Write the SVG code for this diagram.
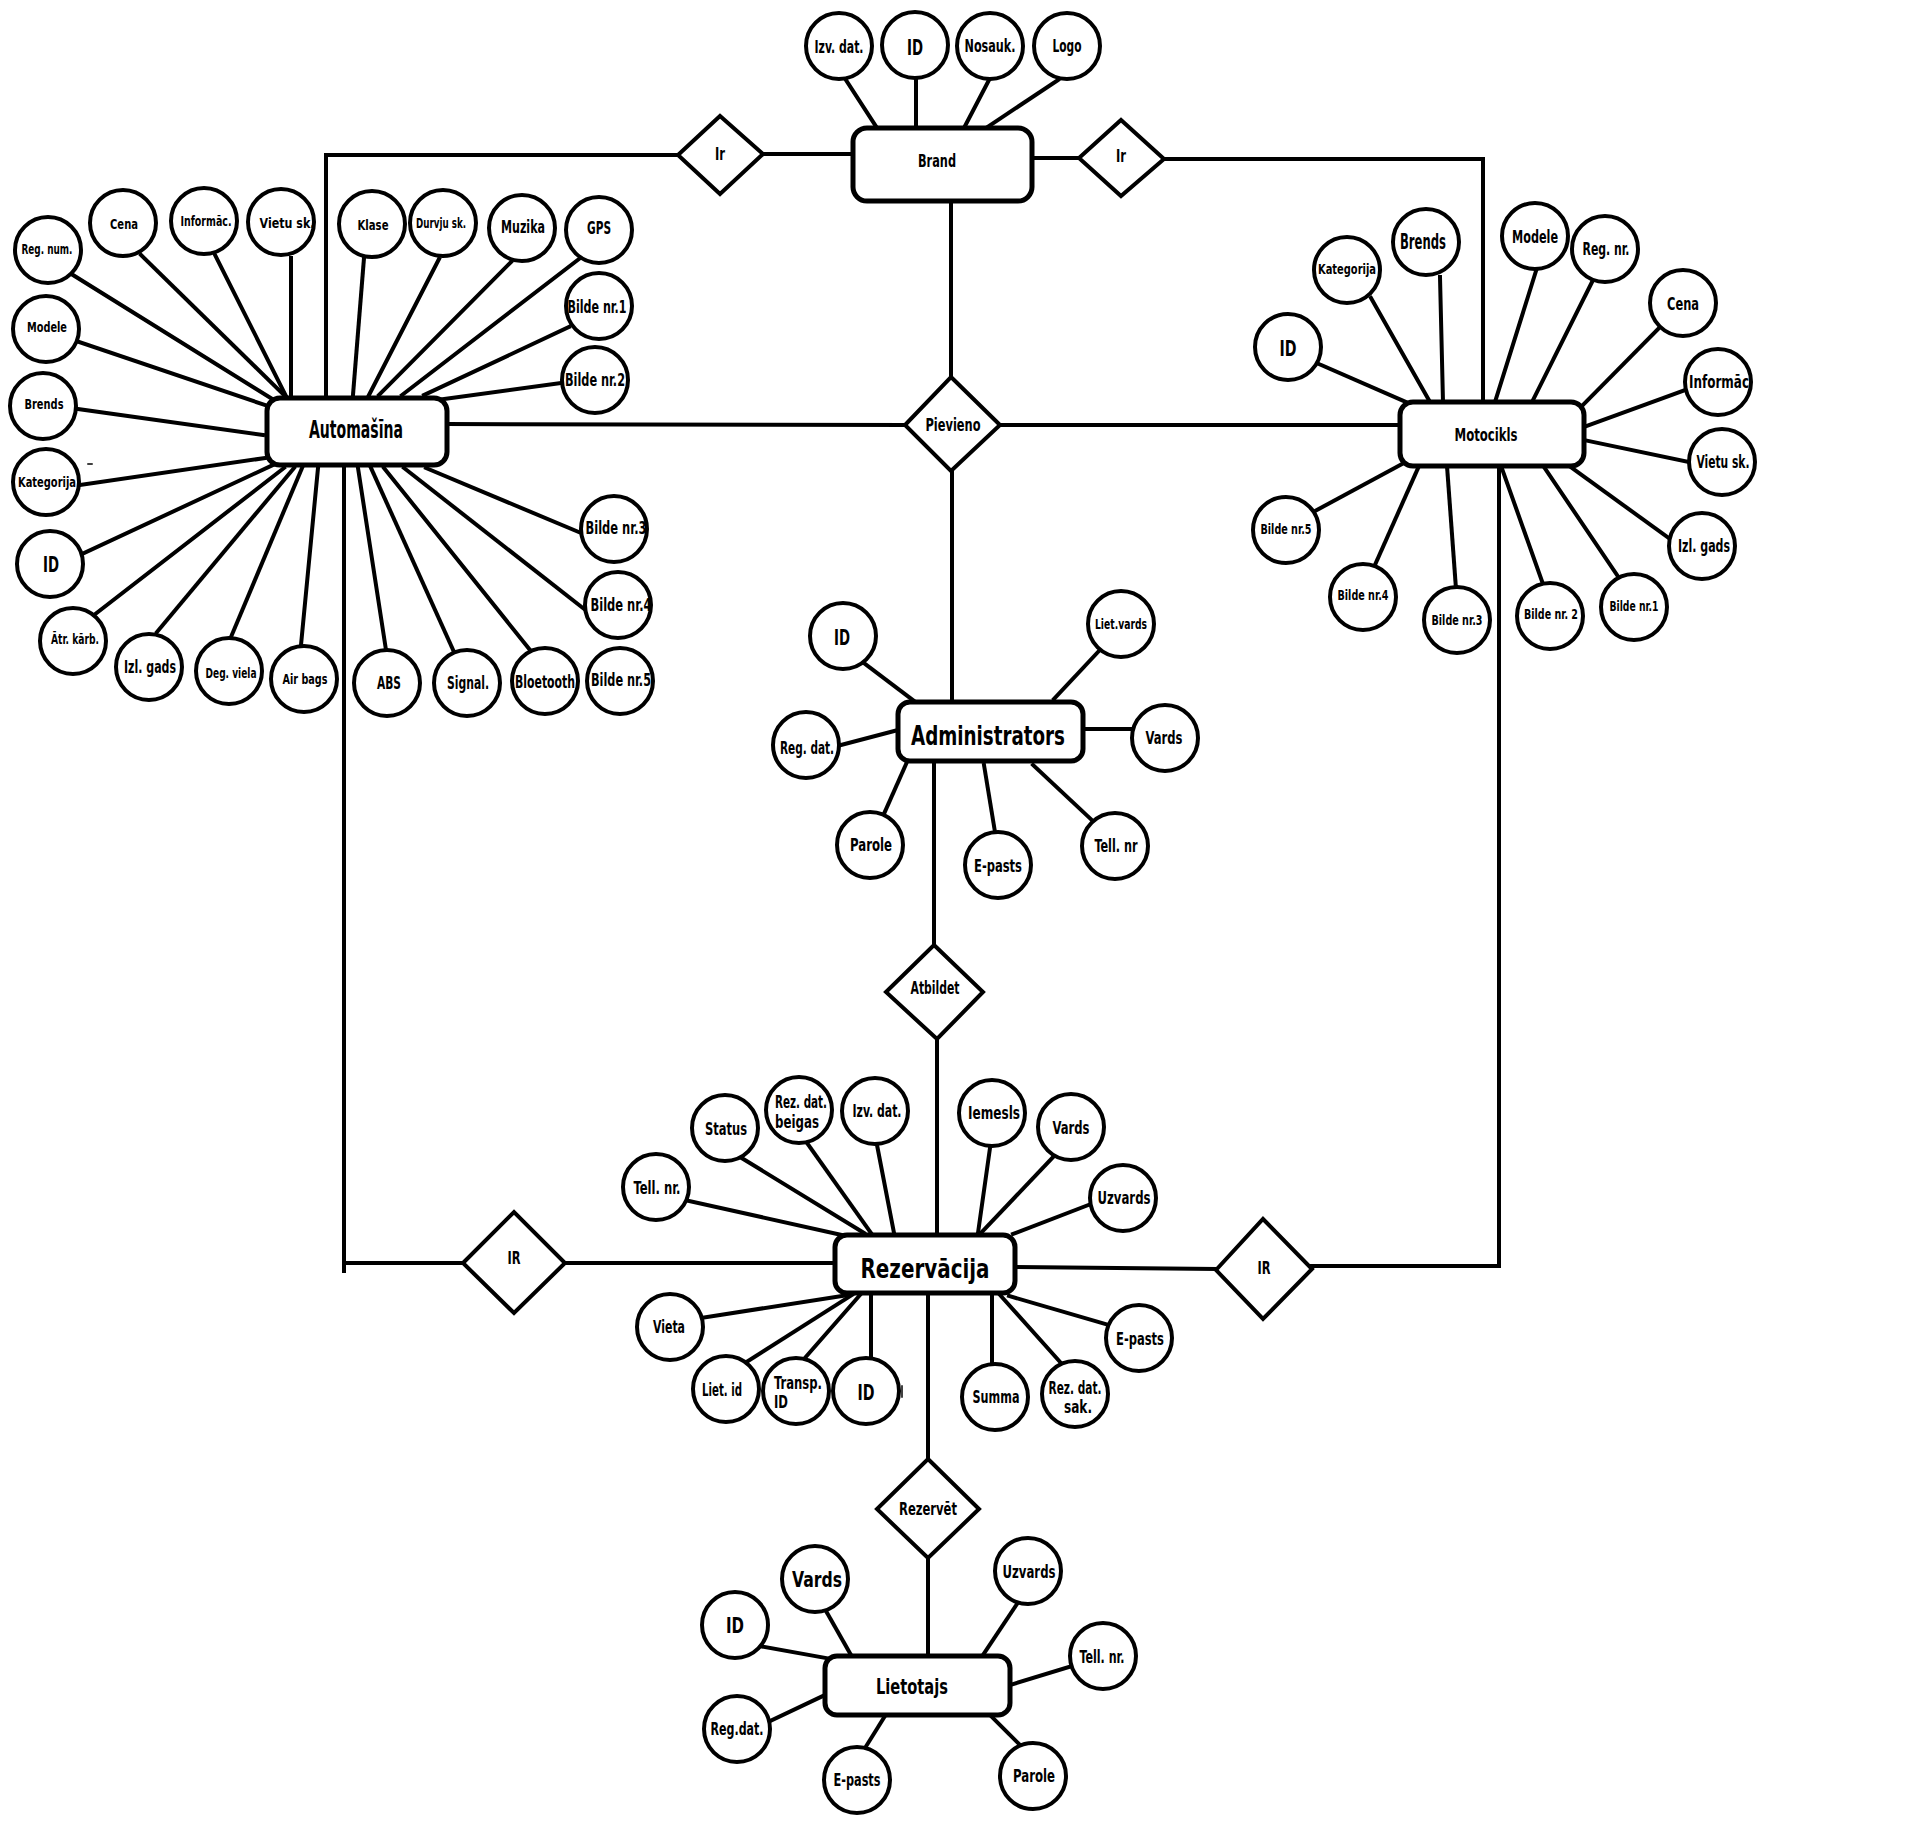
<svg xmlns="http://www.w3.org/2000/svg" width="1920" height="1822" viewBox="0 0 1920 1822">
<style>
.a{fill:#fff;stroke:#000;stroke-width:4}
.e{fill:#fff;stroke:#000;stroke-width:5}
.r{fill:#fff;stroke:#000;stroke-width:4;stroke-linejoin:miter}
.c line,.c polyline{stroke:#000;stroke-width:4;fill:none;stroke-linecap:square}
text{font-family:"DejaVu Sans Condensed","DejaVu Sans",sans-serif;font-stretch:condensed;font-weight:bold;fill:#000;text-anchor:middle}
.xs{font-size:13.5px}.md{font-size:17.5px}.lg{font-size:22px}.xl{font-size:27px}.en{font-size:24px}
.l{text-anchor:start}
</style>
<defs>
<g id="d"/>
</defs>
<rect width="1920" height="1822" fill="#fff"/>
<g class="c" id="connectors">
<polyline points="326,397 326,155 678,155"/>
<line x1="763" y1="154" x2="853" y2="154"/>
<line x1="1032" y1="158" x2="1079" y2="158"/>
<polyline points="1164,159 1483,159 1483,402"/>
<line x1="951" y1="201" x2="951" y2="377"/>
<line x1="447" y1="424" x2="905" y2="425"/>
<line x1="1000" y1="425" x2="1400" y2="425"/>
<line x1="952" y1="471" x2="952" y2="702"/>
<line x1="934" y1="761" x2="934" y2="945"/>
<line x1="937" y1="1039" x2="937" y2="1235"/>
<line x1="344" y1="465" x2="344" y2="1271"/>
<line x1="344" y1="1263" x2="463" y2="1263"/>
<line x1="565" y1="1263" x2="835" y2="1263"/>
<line x1="1015" y1="1267" x2="1216" y2="1269"/>
<polyline points="1312,1266 1499,1266 1499,463"/>
<line x1="928" y1="1293" x2="928" y2="1459"/>
<line x1="928" y1="1558" x2="928" y2="1656"/>
<!-- Automasina attributes -->
<line x1="73" y1="275" x2="277" y2="402"/>
<line x1="141" y1="255" x2="286" y2="397"/>
<line x1="215" y1="255" x2="286" y2="396"/>
<line x1="291" y1="258" x2="291" y2="395"/>
<line x1="364" y1="258" x2="353" y2="395"/>
<line x1="439" y1="259" x2="369" y2="395"/>
<line x1="511" y1="262" x2="379" y2="395"/>
<line x1="579" y1="259" x2="402" y2="395"/>
<line x1="569" y1="327" x2="424" y2="395"/>
<line x1="561" y1="383" x2="437" y2="400"/>
<line x1="79" y1="342" x2="265" y2="405"/>
<line x1="78" y1="409" x2="263" y2="435"/>
<line x1="80" y1="485" x2="265" y2="458"/>
<line x1="84" y1="553" x2="273" y2="465"/>
<line x1="94" y1="615" x2="284" y2="468"/>
<line x1="157" y1="632" x2="294" y2="468"/>
<line x1="231" y1="637" x2="302" y2="468"/>
<line x1="301" y1="645" x2="318" y2="468"/>
<line x1="386" y1="650" x2="358" y2="468"/>
<line x1="454" y1="652" x2="371" y2="468"/>
<line x1="530" y1="650" x2="384" y2="468"/>
<line x1="588" y1="612" x2="404" y2="468"/>
<line x1="581" y1="533" x2="426" y2="468"/>
<line x1="88" y1="464" x2="92" y2="464" style="stroke-width:1.5"/>
<!-- Brand attributes -->
<line x1="846" y1="80" x2="877" y2="128"/>
<line x1="916" y1="78" x2="916" y2="128"/>
<line x1="989" y1="80" x2="964" y2="128"/>
<line x1="1058" y1="80" x2="986" y2="128"/>
<!-- Motocikls attributes -->
<line x1="1319" y1="364" x2="1413" y2="405"/>
<line x1="1371" y1="298" x2="1430" y2="402"/>
<line x1="1440" y1="277" x2="1443" y2="402"/>
<line x1="1536" y1="271" x2="1495" y2="402"/>
<line x1="1593" y1="280" x2="1532" y2="402"/>
<line x1="1658" y1="329" x2="1581" y2="407"/>
<line x1="1685" y1="390" x2="1584" y2="427"/>
<line x1="1689" y1="462" x2="1584" y2="440"/>
<line x1="1670" y1="539" x2="1568" y2="465"/>
<line x1="1619" y1="578" x2="1542" y2="464"/>
<line x1="1543" y1="584" x2="1500" y2="463"/>
<line x1="1456" y1="589" x2="1447" y2="466"/>
<line x1="1374" y1="567" x2="1419" y2="466"/>
<line x1="1315" y1="511" x2="1404" y2="463"/>
<!-- Administrators attributes -->
<line x1="864" y1="663" x2="914" y2="701"/>
<line x1="841" y1="745" x2="898" y2="730"/>
<line x1="1098" y1="652" x2="1054" y2="699"/>
<line x1="1083" y1="729" x2="1132" y2="729"/>
<line x1="907" y1="762" x2="883" y2="816"/>
<line x1="984" y1="765" x2="995" y2="832"/>
<line x1="1033" y1="765" x2="1095" y2="823"/>
<!-- Rezervacija attributes -->
<line x1="689" y1="1201" x2="842" y2="1235"/>
<line x1="740" y1="1157" x2="864" y2="1233"/>
<line x1="807" y1="1143" x2="871" y2="1233"/>
<line x1="877" y1="1145" x2="894" y2="1233"/>
<line x1="990" y1="1148" x2="978" y2="1233"/>
<line x1="1054" y1="1156" x2="981" y2="1233"/>
<line x1="1091" y1="1204" x2="1013" y2="1234"/>
<line x1="701" y1="1318" x2="848" y2="1295"/>
<line x1="745" y1="1363" x2="852" y2="1295"/>
<line x1="804" y1="1359" x2="860" y2="1295"/>
<line x1="871" y1="1295" x2="871" y2="1360"/>
<line x1="992" y1="1295" x2="992" y2="1366"/>
<line x1="1000" y1="1295" x2="1061" y2="1363"/>
<line x1="1009" y1="1296" x2="1109" y2="1325"/>
<line x1="902" y1="1386" x2="902" y2="1397" style="stroke-width:1.5"/>
<!-- Lietotajs attributes -->
<line x1="759" y1="1646" x2="837" y2="1660"/>
<line x1="826" y1="1611" x2="851" y2="1655"/>
<line x1="1017" y1="1604" x2="983" y2="1655"/>
<line x1="1072" y1="1666" x2="1010" y2="1685"/>
<line x1="770" y1="1721" x2="825" y2="1695"/>
<line x1="865" y1="1748" x2="885" y2="1716"/>
<line x1="1021" y1="1746" x2="990" y2="1715"/>
</g>

<!-- Entities -->
<g id="automasina"><rect class="e" x="267" y="398" width="180" height="67" rx="13"/><text class="en" x="356" y="438" textLength="94" lengthAdjust="spacingAndGlyphs">Automašīna</text></g>
<g id="brand"><rect class="e" x="853" y="128" width="179" height="73" rx="14"/><text class="md" x="937" y="167" textLength="38" lengthAdjust="spacingAndGlyphs">Brand</text></g>
<g id="motocikls"><rect class="e" x="1400" y="402" width="184" height="64" rx="13"/><text class="md" x="1486" y="441" textLength="63" lengthAdjust="spacingAndGlyphs">Motocikls</text></g>
<g id="administrators"><rect class="e" x="898" y="702" width="185" height="59" rx="12"/><text class="xl" x="988" y="745" textLength="154" lengthAdjust="spacingAndGlyphs">Administrators</text></g>
<g id="rezervacija"><rect class="e" x="835" y="1235" width="180" height="58" rx="12"/><text class="xl" x="925" y="1278" textLength="129" lengthAdjust="spacingAndGlyphs">Rezervācija</text></g>
<g id="lietotajs"><rect class="e" x="825" y="1656" width="185" height="59" rx="12"/><text class="lg" x="912" y="1694" textLength="72" lengthAdjust="spacingAndGlyphs">Lietotajs</text></g>

<!-- Relationships -->
<g id="rel-ir1"><polygon class="r" points="678,155 720,116 763,154 720,194"/><text class="md" x="720" y="160" textLength="10" lengthAdjust="spacingAndGlyphs">Ir</text></g>
<g id="rel-ir2"><polygon class="r" points="1079,158 1121,120 1164,159 1121,196"/><text class="md" x="1121" y="162" textLength="10" lengthAdjust="spacingAndGlyphs">Ir</text></g>
<g id="rel-pievieno"><polygon class="r" points="951,377 1000,425 951,471 905,425"/><text class="md" x="953" y="431" textLength="55" lengthAdjust="spacingAndGlyphs">Pievieno</text></g>
<g id="rel-atbildet"><polygon class="r" points="934,945 983,992 937,1039 886,992"/><text class="md" x="935" y="994" textLength="49" lengthAdjust="spacingAndGlyphs">Atbildet</text></g>
<g id="rel-ir3"><polygon class="r" points="463,1263 514,1212 565,1263 514,1313"/><text class="md" x="514" y="1264" textLength="13" lengthAdjust="spacingAndGlyphs">IR</text></g>
<g id="rel-ir4"><polygon class="r" points="1216,1270 1263,1219 1312,1269 1263,1319"/><text class="md" x="1264" y="1274" textLength="13" lengthAdjust="spacingAndGlyphs">IR</text></g>
<g id="rel-rezervet"><polygon class="r" points="928,1459 979,1509 928,1558 877,1509"/><text class="md" x="928" y="1515" textLength="58" lengthAdjust="spacingAndGlyphs">Rezervēt</text></g>

<!-- Automasina attributes -->
<g id="a-regnum"><circle class="a" cx="48" cy="250" r="33"/><text class="xs" x="47" y="254" textLength="51" lengthAdjust="spacingAndGlyphs">Reg. num.</text></g>
<g id="a-cena"><circle class="a" cx="123" cy="223" r="33"/><text class="xs" x="124" y="229" textLength="28" lengthAdjust="spacingAndGlyphs">Cena</text></g>
<g id="a-inform"><circle class="a" cx="204" cy="221" r="33"/><text class="xs" x="206" y="226" textLength="51" lengthAdjust="spacingAndGlyphs">Informāc.</text></g>
<g id="a-vietu"><circle class="a" cx="281" cy="222" r="33"/><text class="xs" x="287" y="228" textLength="55" lengthAdjust="spacingAndGlyphs">Vietu sk.</text></g>
<g id="a-klase"><circle class="a" cx="372" cy="224" r="33"/><text class="xs" x="373" y="230" textLength="31" lengthAdjust="spacingAndGlyphs">Klase</text></g>
<g id="a-durvju"><circle class="a" cx="443" cy="223" r="33"/><text class="xs" x="441" y="228" textLength="50" lengthAdjust="spacingAndGlyphs">Durvju sk.</text></g>
<g id="a-muzika"><circle class="a" cx="522" cy="228" r="33"/><text class="md" x="523" y="233" textLength="44" lengthAdjust="spacingAndGlyphs">Muzika</text></g>
<g id="a-gps"><circle class="a" cx="599" cy="230" r="33"/><text class="md" x="599" y="234" textLength="24" lengthAdjust="spacingAndGlyphs">GPS</text></g>
<g id="a-bilde1"><circle class="a" cx="599" cy="306" r="33"/><text class="md" x="597" y="313" textLength="59" lengthAdjust="spacingAndGlyphs">Bilde nr.1</text></g>
<g id="a-bilde2"><circle class="a" cx="595" cy="380" r="33"/><text class="md" x="595" y="386" textLength="60" lengthAdjust="spacingAndGlyphs">Bilde nr.2</text></g>
<g id="a-modele"><circle class="a" cx="46" cy="329" r="33"/><text class="xs" x="47" y="332" textLength="40" lengthAdjust="spacingAndGlyphs">Modele</text></g>
<g id="a-brends"><circle class="a" cx="43" cy="406" r="33"/><text class="xs" x="44" y="409" textLength="39" lengthAdjust="spacingAndGlyphs">Brends</text></g>
<g id="a-kategorija"><circle class="a" cx="46" cy="482" r="33"/><text class="xs" x="47" y="487" textLength="58" lengthAdjust="spacingAndGlyphs">Kategorija</text></g>
<g id="a-id"><circle class="a" cx="50" cy="564" r="33"/><text class="lg" x="51" y="572" textLength="16" lengthAdjust="spacingAndGlyphs">ID</text></g>
<g id="a-atr"><circle class="a" cx="73" cy="641" r="33"/><text class="xs" x="75" y="644" textLength="48" lengthAdjust="spacingAndGlyphs">Ātr. kārb.</text></g>
<g id="a-izl"><circle class="a" cx="149" cy="667" r="33"/><text class="md" x="150" y="673" textLength="52" lengthAdjust="spacingAndGlyphs">Izl. gads</text></g>
<g id="a-deg"><circle class="a" cx="229" cy="671" r="33"/><text class="xs" x="231" y="678" textLength="51" lengthAdjust="spacingAndGlyphs">Deg. viela</text></g>
<g id="a-air"><circle class="a" cx="304" cy="679" r="33"/><text class="xs" x="305" y="684" textLength="45" lengthAdjust="spacingAndGlyphs">Air bags</text></g>
<g id="a-abs"><circle class="a" cx="387" cy="683" r="33"/><text class="md" x="389" y="689" textLength="24" lengthAdjust="spacingAndGlyphs">ABS</text></g>
<g id="a-signal"><circle class="a" cx="467" cy="683" r="33"/><text class="md" x="468" y="689" textLength="42" lengthAdjust="spacingAndGlyphs">Signal.</text></g>
<g id="a-bloetooth"><circle class="a" cx="545" cy="681" r="33"/><text class="md" x="545" y="688" textLength="60" lengthAdjust="spacingAndGlyphs">Bloetooth</text></g>
<g id="a-bilde5"><circle class="a" cx="620" cy="681" r="33"/><text class="md" x="621" y="686" textLength="60" lengthAdjust="spacingAndGlyphs">Bilde nr.5</text></g>
<g id="a-bilde3"><circle class="a" cx="614" cy="529" r="33"/><text class="md" x="616" y="534" textLength="61" lengthAdjust="spacingAndGlyphs">Bilde nr.3</text></g>
<g id="a-bilde4"><circle class="a" cx="618" cy="605" r="33"/><text class="md" x="621" y="611" textLength="61" lengthAdjust="spacingAndGlyphs">Bilde nr.4</text></g>

<!-- Brand attributes -->
<g id="b-izv"><circle class="a" cx="839" cy="46" r="33"/><text class="md" x="839" y="53" textLength="49" lengthAdjust="spacingAndGlyphs">Izv. dat.</text></g>
<g id="b-id"><circle class="a" cx="915" cy="45" r="33"/><text class="lg" x="915" y="55" textLength="16" lengthAdjust="spacingAndGlyphs">ID</text></g>
<g id="b-nosauk"><circle class="a" cx="990" cy="46" r="33"/><text class="md" x="990" y="52" textLength="51" lengthAdjust="spacingAndGlyphs">Nosauk.</text></g>
<g id="b-logo"><circle class="a" cx="1067" cy="46" r="33"/><text class="md" x="1067" y="52" textLength="29" lengthAdjust="spacingAndGlyphs">Logo</text></g>

<!-- Motocikls attributes -->
<g id="m-kategorija"><circle class="a" cx="1347" cy="270" r="33"/><text class="xs" x="1347" y="274" textLength="58" lengthAdjust="spacingAndGlyphs">Kategorija</text></g>
<g id="m-brends"><circle class="a" cx="1426" cy="242" r="33"/><text class="lg" x="1423" y="249" textLength="46" lengthAdjust="spacingAndGlyphs">Brends</text></g>
<g id="m-modele"><circle class="a" cx="1535" cy="236" r="33"/><text class="md" x="1535" y="243" textLength="46" lengthAdjust="spacingAndGlyphs">Modele</text></g>
<g id="m-reg"><circle class="a" cx="1605" cy="249" r="33"/><text class="md" x="1606" y="255" textLength="47" lengthAdjust="spacingAndGlyphs">Reg. nr.</text></g>
<g id="m-cena"><circle class="a" cx="1683" cy="303" r="33"/><text class="md" x="1683" y="310" textLength="32" lengthAdjust="spacingAndGlyphs">Cena</text></g>
<g id="m-inform"><circle class="a" cx="1718" cy="382" r="33"/><text class="md" x="1719" y="388" textLength="60" lengthAdjust="spacingAndGlyphs">Informāc</text></g>
<g id="m-vietu"><circle class="a" cx="1722" cy="462" r="33"/><text class="md" x="1723" y="468" textLength="53" lengthAdjust="spacingAndGlyphs">Vietu sk.</text></g>
<g id="m-izl"><circle class="a" cx="1702" cy="546" r="33"/><text class="md" x="1704" y="552" textLength="52" lengthAdjust="spacingAndGlyphs">Izl. gads</text></g>
<g id="m-bilde1"><circle class="a" cx="1634" cy="607" r="33"/><text class="xs" x="1634" y="611" textLength="49" lengthAdjust="spacingAndGlyphs">Bilde nr.1</text></g>
<g id="m-bilde2"><circle class="a" cx="1550" cy="616" r="33"/><text class="xs" x="1551" y="619" textLength="54" lengthAdjust="spacingAndGlyphs">Bilde nr. 2</text></g>
<g id="m-bilde3"><circle class="a" cx="1457" cy="620" r="33"/><text class="xs" x="1457" y="625" textLength="51" lengthAdjust="spacingAndGlyphs">Bilde nr.3</text></g>
<g id="m-bilde4"><circle class="a" cx="1363" cy="597" r="33"/><text class="xs" x="1363" y="600" textLength="51" lengthAdjust="spacingAndGlyphs">Bilde nr.4</text></g>
<g id="m-bilde5"><circle class="a" cx="1286" cy="530" r="33"/><text class="xs" x="1286" y="534" textLength="51" lengthAdjust="spacingAndGlyphs">Bilde nr.5</text></g>
<g id="m-id"><circle class="a" cx="1288" cy="347" r="33"/><text class="lg" x="1288" y="356" textLength="17" lengthAdjust="spacingAndGlyphs">ID</text></g>

<!-- Administrators attributes -->
<g id="ad-id"><circle class="a" cx="843" cy="636" r="33"/><text class="lg" x="842" y="645" textLength="16" lengthAdjust="spacingAndGlyphs">ID</text></g>
<g id="ad-reg"><circle class="a" cx="806" cy="745" r="33"/><text class="md" x="807" y="754" textLength="54" lengthAdjust="spacingAndGlyphs">Reg. dat.</text></g>
<g id="ad-lietvards"><circle class="a" cx="1121" cy="624" r="33"/><text class="xs" x="1121" y="629" textLength="52" lengthAdjust="spacingAndGlyphs">Liet.vards</text></g>
<g id="ad-vards"><circle class="a" cx="1165" cy="738" r="33"/><text class="md" x="1164" y="744" textLength="37" lengthAdjust="spacingAndGlyphs">Vards</text></g>
<g id="ad-parole"><circle class="a" cx="870" cy="845" r="33"/><text class="md" x="871" y="851" textLength="42" lengthAdjust="spacingAndGlyphs">Parole</text></g>
<g id="ad-epasts"><circle class="a" cx="998" cy="865" r="33"/><text class="md" x="998" y="872" textLength="48" lengthAdjust="spacingAndGlyphs">E-pasts</text></g>
<g id="ad-tell"><circle class="a" cx="1115" cy="846" r="33"/><text class="md" x="1116" y="852" textLength="43" lengthAdjust="spacingAndGlyphs">Tell. nr</text></g>

<!-- Rezervacija attributes -->
<g id="r-status"><circle class="a" cx="725" cy="1128" r="33"/><text class="md" x="726" y="1135" textLength="42" lengthAdjust="spacingAndGlyphs">Status</text></g>
<g id="r-beigas"><circle class="a" cx="799" cy="1110" r="33"/><text class="md l" x="775" y="1108" textLength="52" lengthAdjust="spacingAndGlyphs">Rez. dat.</text><text class="md l" x="775" y="1128" textLength="44" lengthAdjust="spacingAndGlyphs">beigas</text></g>
<g id="r-izv"><circle class="a" cx="875" cy="1111" r="33"/><text class="md" x="877" y="1117" textLength="49" lengthAdjust="spacingAndGlyphs">Izv. dat.</text></g>
<g id="r-iemesls"><circle class="a" cx="992" cy="1113" r="33"/><text class="md" x="994" y="1119" textLength="52" lengthAdjust="spacingAndGlyphs">Iemesls</text></g>
<g id="r-vards"><circle class="a" cx="1071" cy="1127" r="33"/><text class="md" x="1071" y="1134" textLength="37" lengthAdjust="spacingAndGlyphs">Vards</text></g>
<g id="r-uzvards"><circle class="a" cx="1123" cy="1198" r="33"/><text class="md" x="1124" y="1204" textLength="53" lengthAdjust="spacingAndGlyphs">Uzvards</text></g>
<g id="r-tell"><circle class="a" cx="656" cy="1187" r="33"/><text class="md" x="657" y="1194" textLength="47" lengthAdjust="spacingAndGlyphs">Tell. nr.</text></g>
<g id="r-vieta"><circle class="a" cx="670" cy="1327" r="33"/><text class="md" x="669" y="1333" textLength="32" lengthAdjust="spacingAndGlyphs">Vieta</text></g>
<g id="r-epasts"><circle class="a" cx="1139" cy="1338" r="33"/><text class="md" x="1140" y="1345" textLength="48" lengthAdjust="spacingAndGlyphs">E-pasts</text></g>
<g id="r-lietid"><circle class="a" cx="726" cy="1389" r="33"/><text class="md" x="722" y="1396" textLength="40" lengthAdjust="spacingAndGlyphs">Liet. id</text></g>
<g id="r-transp"><circle class="a" cx="796" cy="1391" r="33"/><text class="md l" x="774" y="1389" textLength="48" lengthAdjust="spacingAndGlyphs">Transp.</text><text class="md l" x="774" y="1408" textLength="14" lengthAdjust="spacingAndGlyphs">ID</text></g>
<g id="r-id"><circle class="a" cx="866" cy="1391" r="33"/><text class="lg" x="866" y="1400" textLength="17" lengthAdjust="spacingAndGlyphs">ID</text></g>
<g id="r-summa"><circle class="a" cx="995" cy="1397" r="33"/><text class="md" x="996" y="1403" textLength="47" lengthAdjust="spacingAndGlyphs">Summa</text></g>
<g id="r-sak"><circle class="a" cx="1075" cy="1394" r="33"/><text class="md" x="1075" y="1394" textLength="53" lengthAdjust="spacingAndGlyphs">Rez. dat.</text><text class="md" x="1078" y="1413" textLength="28" lengthAdjust="spacingAndGlyphs">sak.</text></g>

<!-- Lietotajs attributes -->
<g id="l-vards"><circle class="a" cx="815" cy="1579" r="33"/><text class="lg" x="817" y="1587" textLength="50" lengthAdjust="spacingAndGlyphs">Vards</text></g>
<g id="l-id"><circle class="a" cx="735" cy="1625" r="33"/><text class="lg" x="735" y="1633" textLength="18" lengthAdjust="spacingAndGlyphs">ID</text></g>
<g id="l-uzvards"><circle class="a" cx="1028" cy="1571" r="33"/><text class="md" x="1029" y="1578" textLength="53" lengthAdjust="spacingAndGlyphs">Uzvards</text></g>
<g id="l-tell"><circle class="a" cx="1103" cy="1656" r="33"/><text class="md" x="1102" y="1663" textLength="45" lengthAdjust="spacingAndGlyphs">Tell. nr.</text></g>
<g id="l-reg"><circle class="a" cx="737" cy="1729" r="33"/><text class="md" x="737" y="1735" textLength="53" lengthAdjust="spacingAndGlyphs">Reg.dat.</text></g>
<g id="l-epasts"><circle class="a" cx="857" cy="1780" r="33"/><text class="md" x="857" y="1786" textLength="47" lengthAdjust="spacingAndGlyphs">E-pasts</text></g>
<g id="l-parole"><circle class="a" cx="1033" cy="1776" r="33"/><text class="md" x="1034" y="1782" textLength="42" lengthAdjust="spacingAndGlyphs">Parole</text></g>
</svg>
